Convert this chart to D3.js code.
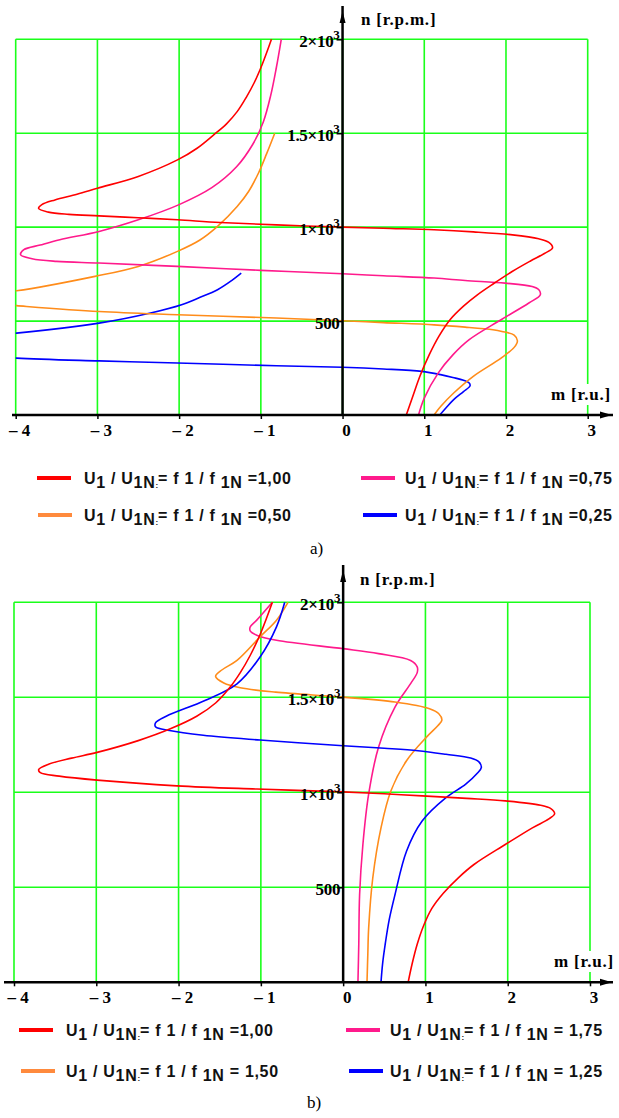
<!DOCTYPE html>
<html><head><meta charset="utf-8">
<script src="https://cdn.jsdelivr.net/npm/d3@7"></script>
<style>body{margin:0;background:#fff} svg{display:block}</style>
</head><body>
<svg id="c" width="619" height="1118"></svg>
<script>
// ---------- data ----------
const xTicks = [-4, -3, -2, -1, 0, 1, 2, 3];
const xTickLabels = ["– 4", "– 3", "– 2", "– 1", "0", "1", "2", "3"];
const yTicks = [500, 1000, 1500, 2000];
const yTickMain = ["500", "1×10", "1.5×10", "2×10"];
const yTickSup = ["", "3", "3", "3"];
const colors = { red: "#ff0000", pink: "#ff1a8c", orange: "#ff8c1a", blue: "#0000ff" };

// panel a)  [m (r.u.), n (r.p.m.)]
const a_100 = [[0.78,0],[0.86,100],[0.95,210],[1.06,320],[1.18,420],[1.32,510],[1.48,580],[1.65,640],[1.85,700],[2.08,765],[2.30,820],[2.47,860],[2.57,890],[2.52,920],[2.40,938],[2.08,959],[1.60,975],[1.12,986],[0.59,993],[0,1000],[-0.81,1012],[-1.5,1025],[-2.02,1039],[-2.5,1050],[-2.98,1060],[-3.35,1068],[-3.60,1080],[-3.72,1100],[-3.68,1120],[-3.52,1145],[-3.25,1175],[-3.0,1207],[-2.5,1270],[-2.02,1358],[-1.78,1420],[-1.58,1490],[-1.42,1550],[-1.29,1615],[-1.18,1690],[-1.08,1770],[-0.98,1870],[-0.87,2000]];
const a_075 = [[0.93,0],[1.0,90],[1.17,223],[1.35,320],[1.55,401],[1.94,507],[2.28,596],[2.42,640],[2.40,668],[2.32,684],[1.99,702],[1.5,716],[1.12,729],[0.5,741],[0,752],[-1.0,770],[-2.02,791],[-2.98,809],[-3.5,818],[-3.80,832],[-3.94,853],[-3.90,880],[-3.70,905],[-3.46,933],[-2.98,977],[-2.50,1039],[-2.0,1120],[-1.6,1210],[-1.3,1320],[-1.1,1440],[-0.97,1560],[-0.88,1700],[-0.81,1850],[-0.75,2000]];
const a_050 = [[1.12,0],[1.20,45],[1.36,117],[1.60,206],[1.94,303],[2.10,360],[2.14,395],[2.10,425],[1.95,445],[1.84,454],[1.5,468],[1.12,480],[0.5,492],[0,502],[-0.81,516],[-2.02,534],[-2.98,551],[-3.99,582],[-4.5,600],[-4.5,640],[-3.99,661],[-3.03,738],[-2.50,791],[-2.02,871],[-1.75,930],[-1.53,1004],[-1.29,1110],[-1.15,1190],[-1.03,1287],[-0.93,1390],[-0.83,1500]];
const a_025 = [[1.19,0],[1.27,40],[1.36,82],[1.48,125],[1.56,155],[1.55,170],[1.48,185],[1.35,200],[1.2,215],[0.97,232],[0.5,245],[0,254],[-0.81,262],[-2.02,277],[-2.98,288],[-3.99,303],[-4.5,320],[-4.5,420],[-3.99,436],[-2.98,489],[-2.35,543],[-1.97,587],[-1.75,625],[-1.53,667],[-1.35,718],[-1.24,755]];

// panel b)
const b_100 = [[0.79,0],[0.84,100],[0.90,200],[0.98,300],[1.08,390],[1.22,470],[1.40,550],[1.59,620],[1.97,725],[2.30,813],[2.50,860],[2.57,887],[2.52,915],[2.40,932],[1.97,955],[1.5,968],[0.96,981],[0.5,992],[0,1002],[-1.05,1017],[-2.02,1034],[-2.99,1064],[-3.45,1085],[-3.68,1103],[-3.70,1120],[-3.58,1148],[-3.3,1180],[-2.99,1210],[-2.49,1272],[-2.10,1334],[-1.78,1400],[-1.55,1470],[-1.38,1550],[-1.25,1630],[-1.13,1720],[-1.0,1840],[-0.86,2000]];
const b_125 = [[0.46,0],[0.48,100],[0.51,197],[0.56,330],[0.63,461],[0.77,690],[0.96,849],[1.25,972],[1.49,1043],[1.63,1100],[1.68,1131],[1.65,1160],[1.55,1180],[1.25,1200],[0.91,1219],[0.5,1232],[0,1245],[-1.01,1275],[-1.7,1300],[-2.11,1325],[-2.28,1345],[-2.28,1365],[-2.15,1400],[-1.68,1483],[-1.29,1571],[-1.01,1712],[-0.81,1871],[-0.71,2000]];
const b_150 = [[0.29,0],[0.30,150],[0.31,285],[0.36,549],[0.46,813],[0.58,1007],[0.77,1166],[1.01,1289],[1.15,1350],[1.20,1380],[1.16,1415],[1.05,1440],[0.63,1475],[0,1501],[-0.82,1527],[-1.25,1550],[-1.45,1575],[-1.55,1610],[-1.47,1645],[-1.29,1694],[-1.01,1818],[-0.81,1906],[-0.67,2000]];
const b_175 = [[0.18,0],[0.19,200],[0.20,461],[0.24,725],[0.31,990],[0.43,1237],[0.63,1448],[0.82,1572],[0.90,1630],[0.90,1660],[0.82,1694],[0.43,1730],[0,1756],[-0.81,1800],[-1.05,1827],[-1.13,1850],[-1.13,1870],[-1.05,1906],[-0.86,2000]];

const legendA = [
  { color: colors.red,    value: "=1,00", col: 0, row: 0 },
  { color: colors.pink,   value: "=0,75", col: 1, row: 0 },
  { color: "#ff8a3d",     value: "=0,50", col: 0, row: 1 },
  { color: colors.blue,   value: "=0,25", col: 1, row: 1 }
];
const legendB = [
  { color: colors.red,    value: "=1,00",  col: 0, row: 0 },
  { color: colors.pink,   value: "= 1,75", col: 1, row: 0 },
  { color: "#ff8a3d",     value: "= 1,50", col: 0, row: 1 },
  { color: colors.blue,   value: "= 1,25", col: 1, row: 1 }
];

// ---------- drawing ----------
const svg = d3.select("#c");
const serif = "'Liberation Serif','Times New Roman',serif";
const sans = "'Liberation Sans',Arial,sans-serif";

function panel(cfg) {
  const g = svg.append("g");
  const x = d3.scaleLinear().domain([-4, 3]).range([cfg.x0, cfg.x1]);
  const y = d3.scaleLinear().domain([0, 2000]).range([cfg.yBot, cfg.yTop]);
  const clipId = "clip" + cfg.id;
  svg.append("clipPath").attr("id", clipId).append("rect")
    .attr("x", x(-4)).attr("y", y(2000) - 2).attr("width", x(3) - x(-4)).attr("height", y(0) - y(2000) + 2);

  // grid
  g.append("g").selectAll("line").data(xTicks).join("line")
    .attr("x1", d => x(d)).attr("x2", d => x(d)).attr("y1", y(2000)).attr("y2", y(0))
    .attr("stroke", "#1aff1a").attr("stroke-width", 1.6);
  g.append("g").selectAll("line").data(yTicks).join("line")
    .attr("x1", x(-4)).attr("x2", x(3)).attr("y1", d => y(d)).attr("y2", d => y(d))
    .attr("stroke", "#1aff1a").attr("stroke-width", 1.6);

  // curves
  const line = d3.line().x(d => x(d[0])).y(d => y(d[1])).curve(d3.curveCatmullRom.alpha(0.5));
  g.append("g").attr("clip-path", `url(#${clipId})`).selectAll("path").data(cfg.series).join("path")
    .attr("d", d => line(d.data)).attr("fill", "none").attr("stroke", d => d.color).attr("stroke-width", 1.6);

  // x axis
  const x0px = x(0);
  g.append("line").attr("x1", cfg.axisLeft).attr("x2", 613).attr("y1", y(0)).attr("y2", y(0))
    .attr("stroke", "#000").attr("stroke-width", 2.5);
  g.append("path").attr("d", `M600,${y(0) - 3.5}L612,${y(0)}L600,${y(0) + 3.5}Z`).attr("fill", "#000");
  const xAxis = d3.axisBottom(x).tickValues(xTicks).tickSize(4).tickPadding(5)
    .tickFormat((d, i) => xTickLabels[i]);
  const xa = g.append("g").attr("transform", `translate(0,${y(0)})`).call(xAxis);
  xa.select(".domain").remove();
  xa.selectAll(".tick line").attr("stroke", "#000").attr("stroke-width", 1.5);
  xa.selectAll(".tick text").attr("font-family", serif).attr("font-weight", "bold")
    .attr("font-size", 17).attr("fill", "#000").attr("dx", 3.5);

  // y axis
  g.append("line").attr("x1", x0px).attr("x2", x0px).attr("y1", cfg.axisTop).attr("y2", y(0))
    .attr("stroke", "#000").attr("stroke-width", 2.5);
  g.append("path").attr("d", `M${x0px - 3},${cfg.axisTop + 17}L${x0px},${cfg.axisTop + 5}L${x0px + 3},${cfg.axisTop + 17}Z`).attr("fill", "#000");
  const yAxis = d3.axisLeft(y).tickValues(yTicks).tickSize(6).tickPadding(-3).tickFormat(() => "");
  const ya = g.append("g").attr("transform", `translate(${x0px},0)`).call(yAxis);
  ya.select(".domain").remove();
  ya.selectAll(".tick line").attr("stroke", "#000").attr("stroke-width", 1.5);
  ya.selectAll(".tick text").each(function (d, i) {
    const t = d3.select(this).attr("font-family", serif).attr("font-weight", "bold")
      .attr("font-size", 17).attr("fill", "#000").attr("dy", "0.42em").attr("letter-spacing", -0.3);
    t.append("tspan").text(yTickMain[i]);
    if (yTickSup[i]) t.append("tspan").attr("dy", -8).attr("font-size", 13).text(yTickSup[i]);
  });

  // axis titles
  g.append("text").attr("x", cfg.nLabel[0]).attr("y", cfg.nLabel[1]).attr("font-family", serif)
    .attr("font-weight", "bold").attr("font-size", 17).attr("letter-spacing", 0.8).text("n [r.p.m.]");
  g.append("rect").attr("x", cfg.mLabel[0] - 2).attr("y", cfg.mLabel[1] - 16).attr("width", 64).attr("height", 21).attr("fill", "#fff");
  g.append("text").attr("x", cfg.mLabel[0]).attr("y", cfg.mLabel[1]).attr("font-family", serif)
    .attr("font-weight", "bold").attr("font-size", 17).attr("letter-spacing", 0.8).text("m [r.u.]");

  // legend
  const lg = g.append("g");
  cfg.legend.forEach(it => {
    const lx = cfg.legCols[it.col] + (it.row === 1 ? cfg.legRow2Shift[it.col] : 0);
    const ly = cfg.legRows[it.row];
    lg.append("line").attr("x1", lx).attr("x2", lx + 34).attr("y1", ly).attr("y2", ly)
      .attr("stroke", it.color).attr("stroke-width", 4);
    const t = lg.append("text").attr("x", cfg.legText[it.col]).attr("y", ly + 6)
      .attr("font-family", sans).attr("font-weight", "bold").attr("font-size", 16)
      .attr("letter-spacing", 0.7).attr("fill", "#111");
    t.append("tspan").text("U");
    t.append("tspan").attr("dy", 4).text("1");
    t.append("tspan").attr("dy", -4).text(" / U");
    t.append("tspan").attr("dy", 4).text("1N");
    t.append("tspan").attr("font-size", 8).attr("letter-spacing", 0).text(":");
    t.append("tspan").attr("dy", -4).text("= f 1 / f ");
    t.append("tspan").attr("dy", 4).text("1N");
    t.append("tspan").attr("dy", -4).text(" " + it.value);
  });

  // caption
  g.append("text").attr("x", cfg.caption[1]).attr("y", cfg.caption[2]).attr("font-family", serif)
    .attr("font-size", 17).attr("fill", "#000").text(cfg.caption[0]);
}

panel({
  id: "a", x0: 15.7, x1: 587.7, yTop: 39.3, yBot: 415, axisLeft: 12, axisTop: 6,
  series: [
    { data: a_025, color: colors.blue }, { data: a_050, color: colors.orange },
    { data: a_075, color: colors.pink }, { data: a_100, color: colors.red }
  ],
  nLabel: [361, 25], mLabel: [551, 400],
  legend: legendA, legCols: [37, 361], legRow2Shift: [1, 2], legRows: [478, 515], legText: [84, 405],
  caption: ["a)", 310, 554]
});
panel({
  id: "b", x0: 14, x1: 590, yTop: 602.3, yBot: 982.3, axisLeft: 4, axisTop: 565,
  series: [
    { data: b_175, color: colors.pink }, { data: b_150, color: colors.orange },
    { data: b_125, color: colors.blue }, { data: b_100, color: colors.red }
  ],
  nLabel: [360, 585], mLabel: [554, 967],
  legend: legendB, legCols: [19, 346], legRow2Shift: [2, 3], legRows: [1030, 1071], legText: [66, 390],
  caption: ["b)", 307, 1108]
});
</script>
</body></html>
